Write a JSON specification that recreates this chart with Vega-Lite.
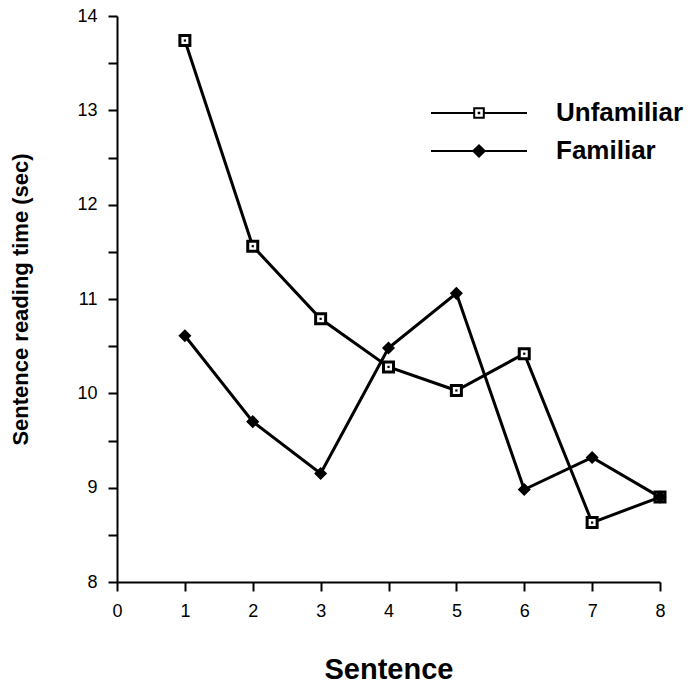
{
  "$schema": "https://vega.github.io/schema/vega-lite/v6.json",
  "width": 543,
  "height": 566,
  "autosize": {"type": "none"},
  "padding": {"left": 117, "top": 16, "right": 39, "bottom": 103},
  "background": "white",
  "config": {
    "view": {"stroke": null},
    "font": "Liberation Sans",
    "axis": {
      "grid": false,
      "domainColor": "black",
      "domainWidth": 2,
      "tickColor": "black",
      "tickWidth": 2,
      "tickSize": 9,
      "labelColor": "black",
      "labelFont": "Liberation Sans",
      "labelFontSize": 18,
      "titleColor": "black",
      "titleFont": "Liberation Sans",
      "titleFontWeight": "bold"
    }
  },
  "data": {
    "values": [
      {"sentence": 1, "time": 13.74, "condition": "Unfamiliar"},
      {"sentence": 2, "time": 11.56, "condition": "Unfamiliar"},
      {"sentence": 3, "time": 10.79, "condition": "Unfamiliar"},
      {"sentence": 4, "time": 10.28, "condition": "Unfamiliar"},
      {"sentence": 5, "time": 10.03, "condition": "Unfamiliar"},
      {"sentence": 6, "time": 10.42, "condition": "Unfamiliar"},
      {"sentence": 7, "time": 8.63, "condition": "Unfamiliar"},
      {"sentence": 8, "time": 8.9, "condition": "Unfamiliar"},
      {"sentence": 1, "time": 10.61, "condition": "Familiar"},
      {"sentence": 2, "time": 9.7, "condition": "Familiar"},
      {"sentence": 3, "time": 9.15, "condition": "Familiar"},
      {"sentence": 4, "time": 10.48, "condition": "Familiar"},
      {"sentence": 5, "time": 11.06, "condition": "Familiar"},
      {"sentence": 6, "time": 8.98, "condition": "Familiar"},
      {"sentence": 7, "time": 9.32, "condition": "Familiar"},
      {"sentence": 8, "time": 8.9, "condition": "Familiar"}
    ]
  },
  "encoding": {
    "x": {
      "field": "sentence",
      "type": "quantitative",
      "scale": {"domain": [0, 8], "nice": false, "zero": false},
      "axis": {
        "title": "Sentence",
        "values": [0, 1, 2, 3, 4, 5, 6, 7, 8],
        "format": "d",
        "labelPadding": 11,
        "labelFlush": false,
        "titleFontSize": 29,
        "titlePadding": 35
      }
    },
    "y": {
      "field": "time",
      "type": "quantitative",
      "scale": {"domain": [8, 14], "nice": false, "zero": false},
      "axis": {
        "title": "Sentence reading time  (sec)",
        "values": [8, 8.5, 9, 9.5, 10, 10.5, 11, 11.5, 12, 12.5, 13, 13.5, 14],
        "labelExpr": "datum.value % 1 === 0 ? format(datum.value, 'd') : ''",
        "labelPadding": 11,
        "labelFlush": false,
        "titleFontSize": 22,
        "titlePadding": 44
      }
    }
  },
  "layer": [
    {
      "mark": {"type": "line", "strokeWidth": 3},
      "encoding": {
        "stroke": {
          "field": "condition",
          "type": "nominal",
          "scale": {"domain": ["Unfamiliar", "Familiar"], "range": ["black", "black"]},
          "legend": {
            "title": null,
            "orient": "none",
            "legendX": 349,
            "legendY": 84,
            "padding": 0,
            "symbolSize": 36,
            "symbolStrokeWidth": 2,
            "labelFontSize": 26,
            "labelFontWeight": "bold",
            "labelColor": "black",
            "labelFont": "Liberation Sans",
            "labelOffset": 64,
            "labelLimit": 400,
            "rowPadding": 12,
            "encode": {
              "symbols": {
                "update": {
                  "shape": {"signal": "datum.value === 'Familiar' ? 'M-16,0H16M-1.9,0L0,-1.9L1.9,0L0,1.9Z' : 'M-16,0H-1.6M1.6,0H16M-1.6,-1.6H1.6V1.6H-1.6ZM-0.1,-0.1H0.1V0.1H-0.1Z'"},
                  "fill": {"signal": "datum.value === 'Familiar' ? 'black' : 'white'"},
                  "stroke": {"value": "black"},
                  "opacity": {"value": 1}
                }
              }
            }
          }
        }
      }
    },
    {
      "transform": [{"filter": "datum.condition === 'Unfamiliar'"}],
      "mark": {"type": "point", "shape": "square", "size": 100, "stroke": "black", "strokeWidth": 3, "fill": "white", "opacity": 1, "fillOpacity": 1},
      "encoding": {}
    },
    {
      "transform": [{"filter": "datum.condition === 'Unfamiliar'"}],
      "mark": {"type": "square", "size": 5, "color": "black", "opacity": 1},
      "encoding": {}
    },
    {
      "transform": [{"filter": "datum.condition === 'Familiar'"}],
      "mark": {"type": "point", "shape": "diamond", "size": 120, "stroke": "black", "strokeWidth": 1.5, "fill": "black", "opacity": 1, "fillOpacity": 1},
      "encoding": {}
    }
  ]
}
